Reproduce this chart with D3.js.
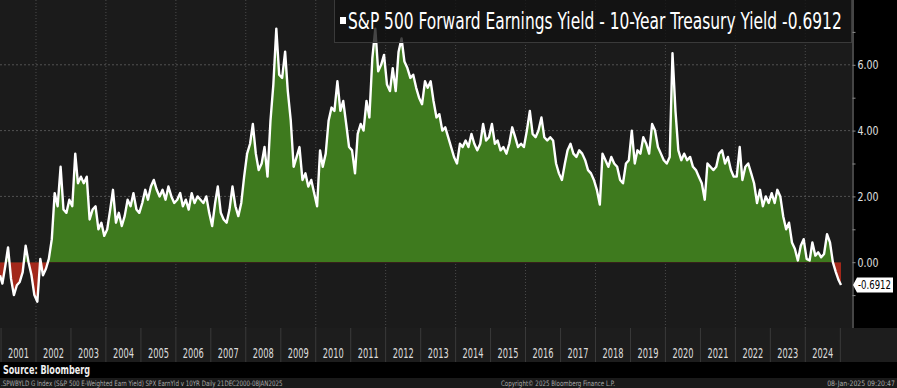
<!DOCTYPE html>
<html>
<head>
<meta charset="utf-8">
<script src="https://cdnjs.cloudflare.com/ajax/libs/d3/7.8.5/d3.min.js"></script>
<style>
  html, body { margin: 0; padding: 0; background: #000; overflow: hidden; }
  svg { display: block; }
  text { font-family: "Liberation Sans Narrow", "DejaVu Sans Condensed", "Liberation Sans", sans-serif; }
</style>
</head>
<body>
<svg id="chart" width="897" height="388"></svg>
<script>
// S&P 500 forward earnings yield minus 10y treasury yield, monthly readings
const spread = [
  -0.4, // 21 Dec 2000
  -0.65, -0.1, 0.45, -0.5, -1.0, -0.7, -0.6, -0.3, 0.5, 0.0, -0.4, -1.0,   // 2001
  -1.2, 0.1, -0.4, -0.2, 0.1, 0.7, 2.1, 1.7, 2.9, 1.6, 1.5, 1.9,          // 2002
  1.7, 3.3, 2.4, 2.6, 2.4, 2.6, 1.3, 1.6, 1.7, 1.0, 1.2, 0.8,             // 2003
  1.0, 1.6, 2.2, 1.2, 1.5, 1.1, 1.4, 1.9, 1.7, 2.1, 1.6, 1.5,             // 2004
  1.8, 2.2, 1.9, 2.3, 2.5, 2.2, 2.0, 2.2, 1.9, 2.3, 2.0, 1.8,             // 2005
  1.9, 2.1, 1.7, 1.9, 1.6, 2.1, 1.8, 2.0, 1.9, 1.8, 2.0, 1.5,             // 2006
  1.1, 1.8, 2.3, 1.5, 1.3, 1.2, 1.6, 2.3, 1.7, 1.4, 1.8, 2.6,             // 2007
  3.3, 3.6, 4.2, 3.3, 2.8, 3.0, 3.5, 2.6, 4.3, 5.4, 7.1, 5.7,             // 2008
  5.6, 6.4, 5.2, 4.3, 2.9, 3.2, 3.5, 2.5, 2.7, 2.3, 2.5, 2.1,             // 2009
  1.7, 3.4, 2.9, 3.3, 4.3, 4.7, 4.6, 5.5, 4.6, 4.9, 4.2, 3.5,             // 2010
  3.4, 2.7, 3.9, 4.2, 4.0, 4.9, 4.4, 6.2, 7.1, 5.8, 6.0, 6.3,             // 2011
  5.4, 5.2, 5.9, 5.2, 6.4, 6.8, 6.1, 5.9, 5.6, 5.7, 5.3, 5.0,             // 2012
  4.8, 5.5, 5.3, 5.5, 4.9, 4.4, 4.5, 4.0, 4.1, 3.8, 3.5, 3.2,             // 2013
  3.0, 3.6, 3.5, 3.7, 3.5, 3.9, 3.6, 3.4, 3.6, 4.2, 3.7, 3.8,             // 2014
  4.2, 3.6, 3.7, 3.4, 3.5, 3.3, 3.6, 4.1, 3.8, 3.5, 3.6, 3.5,             // 2015
  4.0, 4.6, 3.9, 3.8, 4.0, 4.4, 3.8, 3.7, 3.8, 3.7, 3.0, 2.7,             // 2016
  2.5, 3.0, 3.4, 3.6, 3.3, 3.2, 3.4, 3.3, 3.1, 2.8, 2.7, 2.5,             // 2017
  2.2, 1.75, 3.3, 3.1, 2.9, 3.2, 3.0, 2.9, 2.5, 2.4, 3.0, 3.1,            // 2018
  4.0, 3.0, 3.4, 3.3, 3.8, 3.6, 3.3, 4.2, 4.0, 3.5, 3.3, 3.1,             // 2019
  3.0, 3.2, 6.35, 4.6, 3.4, 3.1, 3.3, 3.1, 3.2, 2.9, 2.8, 2.6,            // 2020
  2.4, 1.9, 3.0, 2.9, 2.8, 2.9, 3.3, 3.4, 3.0, 3.2, 2.8, 2.6,             // 2021
  2.6, 3.5, 2.5, 2.9, 3.0, 2.7, 2.4, 1.8, 2.2, 1.7, 2.0, 1.8,             // 2022
  2.1, 1.8, 2.2, 2.0, 1.4, 1.0, 1.2, 0.6, 0.4, 0.05, 0.5, 0.7,            // 2023
  0.1, 0.05, 0.6, 0.2, 0.3, 0.15, 0.25, 0.85, 0.6, 0.0, -0.3, -0.55,      // 2024
  -0.6912 // 08 Jan 2025
]
const lastValue = -0.6912
const years = d3.range(2001, 2025)
const gridYears = [2002, 2004, 2006, 2008, 2010, 2012, 2014, 2016, 2018, 2020, 2022, 2024]
const yTicks = [-2, -1, 0, 1, 2, 3, 4, 5, 6, 7]
const yGrid = [2, 4, 6]
const title = 'S&P 500 Forward Earnings Yield - 10-Year Treasury Yield'

// dates: first print, then mid month, then last print
const dates = spread.map((v, i) => {
  if (i === 0) return new Date(2000, 11, 21)
  if (i === spread.length - 1) return new Date(2025, 0, 8)
  return new Date(2001, i - 1, 15)
})
const data = spread.map((v, i) => ({date: dates[i], value: v}))

// shrink the font until the text is w wide, then stretch it back up so it keeps its height
function fitText(t, w) {
  const fs = +t.attr('font-size')
  const x0 = +t.attr('x') || 0, y0 = +t.attr('y') || 0
  const len = t.node().getComputedTextLength()
  if (!len) return
  const nfs = fs * w / len
  t.attr('font-size', nfs).attr('x', 0).attr('y', 0)
    .attr('transform', `translate(${x0},${y0}) scale(1,${fs / nfs})`)
}

const svg = d3.select('#chart')
const plotRight = 852, plotBottom = 328

const x = d3.scaleTime()
  .domain([dates[0], dates[dates.length - 1]])
  .range([0, 841])
const y = d3.scaleLinear()
  .domain([-2, 8])
  .range([plotBottom, -1])

svg.append('rect').attr('width', 897).attr('height', 388).attr('fill', '#000')
svg.append('rect').attr('width', plotRight).attr('height', plotBottom).attr('fill', '#1b1b1b')

// grid
svg.append('g').selectAll('line')
  .data(gridYears).enter().append('line')
  .attr('x1', d => x(new Date(d, 0, 1))).attr('x2', d => x(new Date(d, 0, 1)))
  .attr('y1', 0).attr('y2', plotBottom)
  .attr('stroke', '#4a4a4a').attr('stroke-dasharray', '1,2')
svg.append('g').selectAll('line')
  .data(yGrid).enter().append('line')
  .attr('x1', 0).attr('x2', plotRight)
  .attr('y1', d => y(d)).attr('y2', d => y(d))
  .attr('stroke', '#525252').attr('stroke-dasharray', '2,2')

// clip areas above / below zero
const defs = svg.append('defs')
defs.append('clipPath').attr('id', 'above')
  .append('rect').attr('x', 0).attr('y', -2).attr('width', plotRight).attr('height', y(0) + 2)
defs.append('clipPath').attr('id', 'below')
  .append('rect').attr('x', 0).attr('y', y(0)).attr('width', plotRight).attr('height', plotBottom - y(0))

const area = d3.area()
  .x(d => x(d.date))
  .y0(y(0))
  .y1(d => y(d.value))
const line = d3.line()
  .x(d => x(d.date))
  .y(d => y(d.value))

svg.append('path').datum(data).attr('d', area).attr('fill', '#3e7a1e').attr('clip-path', 'url(#above)')
svg.append('path').datum(data).attr('d', area).attr('fill', '#a3281b').attr('clip-path', 'url(#below)')
svg.append('path').datum(data).attr('d', line)
  .attr('fill', 'none').attr('stroke', '#fff').attr('stroke-width', 2.4)
  .attr('stroke-linejoin', 'round')

// legend box (sits on top of the line)
svg.append('rect')
  .attr('x', 334.5).attr('y', -1).attr('width', 517).attr('height', 43.5)
  .attr('fill', '#111').attr('fill-opacity', 0.78)
  .attr('stroke', '#3a3a3a')
svg.append('rect').attr('x', 340).attr('y', 17).attr('width', 6).attr('height', 7).attr('fill', '#fff')
const legendText = svg.append('text')
  .attr('x', 348).attr('y', 28.5)
  .attr('font-size', 23).attr('fill', '#fff')
  .text(title + ' ' + lastValue.toFixed(4))
fitText(legendText, 494)

// right axis
const yAxis = d3.axisRight(y)
  .tickValues(yTicks)
  .tickSize(3)
  .tickPadding(2)
  .tickFormat(d => (d % 2 === 0 && d > -2) ? d.toFixed(2) : '')
const ga = svg.append('g')
  .attr('transform', `translate(${plotRight + 0.5},0)`)
  .call(yAxis)
ga.select('.domain').attr('stroke', '#8a8a8a')
ga.selectAll('.tick line').attr('stroke', '#8a8a8a')
ga.selectAll('.tick text')
  .attr('fill', '#e0e0e0').attr('font-size', 13)
  .attr('font-family', '"Liberation Sans Narrow", "DejaVu Sans Condensed", sans-serif')
  .each(function(d) { if (d % 2 === 0 && d > -2) fitText(d3.select(this), 21) })

// last value tag
const ly = y(lastValue)
svg.append('path')
  .attr('d', `M853,${ly} L857,${ly - 7.5} L893,${ly - 7.5} L893,${ly + 7.5} L857,${ly + 7.5} Z`)
  .attr('fill', '#fff')
const tag = svg.append('text')
  .attr('x', 858).attr('y', ly + 4.5)
  .attr('font-size', 13).attr('fill', '#000')
  .text(lastValue.toFixed(4))
fitText(tag, 33)

// year band
svg.append('rect').attr('x', 0).attr('y', plotBottom).attr('width', 897).attr('height', 34).attr('fill', '#1d1d1d')
svg.append('g').selectAll('line')
  .data(years.concat([2025])).enter().append('line')
  .attr('x1', d => x(new Date(d, 0, 1))).attr('x2', d => x(new Date(d, 0, 1)))
  .attr('y1', plotBottom).attr('y2', 362)
  .attr('stroke', '#3a3a3a')
svg.append('g').selectAll('text')
  .data(years).enter().append('text')
  .attr('x', d => (x(new Date(d, 0, 1)) + x(new Date(d + 1, 0, 1))) / 2)
  .attr('y', 358)
  .attr('text-anchor', 'middle')
  .attr('font-size', 14).attr('fill', '#dcdcdc')
  .text(d => d)
  .each(function() { fitText(d3.select(this), 21) })

// footer
svg.append('rect').attr('x', 0).attr('y', 378).attr('width', 897).attr('height', 10).attr('fill', '#1a1a1a')
const source = svg.append('text')
  .attr('x', 3).attr('y', 374)
  .attr('font-size', 12).attr('font-weight', 'bold').attr('fill', '#f0f0f0')
  .text('Source: Bloomberg')
fitText(source, 87)
const f1 = svg.append('text')
  .attr('x', 1).attr('y', 385.5)
  .attr('font-size', 7.5).attr('fill', '#a8a8a8')
  .text('.SPWBYLD G Index (S&P 500 E-Weighted Earn Yield) SPX EarnYld v 10YR  Daily 21DEC2000-08JAN2025')
fitText(f1, 282)
const f2 = svg.append('text')
  .attr('x', 501).attr('y', 385.5)
  .attr('font-size', 7.5).attr('fill', '#a8a8a8')
  .text('Copyright© 2025 Bloomberg Finance L.P.')
fitText(f2, 114)
const f3 = svg.append('text')
  .attr('x', 895).attr('y', 385.5)
  .attr('text-anchor', 'end')
  .attr('font-size', 7.5).attr('fill', '#a8a8a8')
  .text('08-Jan-2025 09:20:47')
fitText(f3, 68)
</script>
</body>
</html>
